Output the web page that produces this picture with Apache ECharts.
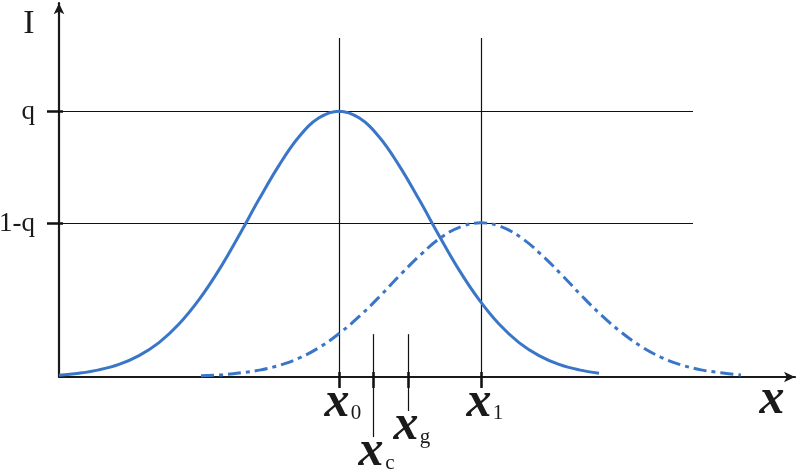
<!DOCTYPE html>
<html><head><meta charset="utf-8">
<script src="https://cdn.jsdelivr.net/npm/echarts@6/dist/echarts.min.js"></script>
<style>html,body{margin:0;padding:0;background:#fff}#c{width:796px;height:470px}</style>
</head><body><div id="c"></div>
<script>
// ---- data (x in arbitrary units, I in units where q + (1-q) = 1) ----
const xSolid = [0,2,4,6,8,10,12,14,16,18,20,22,24,26,28,30,32,34,36,38,40,42,44,46,48,50,52,54];
const ySolid = [0.004,0.009,0.017,0.030,0.051,0.082,0.126,0.184,0.255,0.337,0.423,0.504,0.572,0.617,0.633,0.617,0.572,0.504,0.423,0.337,0.255,0.184,0.126,0.082,0.051,0.030,0.017,0.009];
const xDash = [14.2,16.2,18.2,20.2,22.2,24.2,26.2,28.2,30.2,32.2,34.2,36.2,38.2,40.2,42.2,44.2,46.2,48.2,50.2,52.2,54.2,56.2,58.2,60.2,62.2,64.2,66.2,68.2];
const yDash = [0.003,0.005,0.010,0.017,0.029,0.047,0.073,0.107,0.148,0.195,0.245,0.292,0.332,0.358,0.367,0.358,0.332,0.292,0.245,0.195,0.148,0.107,0.073,0.047,0.029,0.017,0.010,0.005];
const levelValues = [0.633, 0.367];
const levelLabels = ['q', '1-q'];
const guideEnd = 63.4;
const markerX = [28, 31.4, 34.9, 42.2];
const markerSub = ['0', 'c', 'g', '1'];
const markerTop = [0.807, 0.102, 0.102, 0.807];
const markerBottom = [-0.026, -0.143, -0.081, -0.026];
const xMax = 73.6, yMax = 0.89;
const xName = 'x', yName = 'I';

const BLUE = '#3a76c8', INK = '#111';
const chart = echarts.init(document.getElementById('c'));
const axisCommon = {
  type: 'value', min: 0,
  axisLine: { show: true, symbol: ['none', 'arrow'], symbolSize: [8, 11], lineStyle: { color: '#1a1a1a', width: 2.2 } },
  axisTick: { show: false }, axisLabel: { show: false }, splitLine: { show: false }
};
const px = v => Math.round(v) + 0.5;
function renderGuides(params, api) {
  const ch = [];
  const seg = (a, b, w) => ({ type: 'line', shape: { x1: a[0], y1: a[1], x2: b[0], y2: b[1] }, style: { stroke: INK, lineWidth: w } });
  const txt = (s, x, y, font, align) => ({ type: 'text', style: { text: s, x: x, y: y, font: font, fill: '#1a1a1a', align: align || 'center', verticalAlign: 'middle' } });
  const XFONT = 'italic bold 50px "Liberation Serif"';
  levelValues.forEach((v, i) => {
    const p0 = api.coord([0, v]), p1 = api.coord([guideEnd, v]);
    const y = px(p0[1]);
    ch.push(seg([p0[0], y], [p1[0], y], 1.2));
    ch.push(seg([p0[0] - 12, y], [p0[0] + 4, y], 2.5));
    ch.push(txt(levelLabels[i], p0[0] - 24, p0[1] + 1, '27px "Liberation Serif"', 'right'));
  });
  markerX.forEach((x, i) => {
    const top = api.coord([x, markerTop[i]]), bot = api.coord([x, markerBottom[i]]);
    const xx = px(top[0]);
    ch.push(seg([xx, top[1]], [xx, bot[1]], 1.2));
    const t0 = api.coord([x, 0.012]), t1 = api.coord([x, -0.026]);
    ch.push(seg([xx, t0[1]], [xx, t1[1]], 2.5));
    const cy = bot[1] + 16;
    ch.push(txt(xName, top[0] - 2, cy - 1, XFONT));
    ch.push(txt(markerSub[i], top[0] + 17, cy + 10, '21px "Liberation Serif"'));
  });
  const o = api.coord([0, yMax]);
  ch.push(txt(yName, o[0] - 30, o[1] + 21, '34px "Liberation Serif"'));
  const e = api.coord([xMax, 0]);
  ch.push(txt(xName, e[0] - 23, e[1] + 23, XFONT));
  return { type: 'group', children: ch };
}
chart.setOption({
  animation: false,
  backgroundColor: '#fff',
  grid: { left: 59, right: 1, top: 3.2, bottom: 93, containLabel: false },
  xAxis: Object.assign({ max: xMax }, axisCommon),
  yAxis: Object.assign({ max: yMax }, axisCommon),
  series: [
    { type: 'custom', renderItem: renderGuides, data: [[0, 0]], clip: false, z: 1, silent: true },
    { type: 'line', data: xSolid.map((x, i) => [x, ySolid[i]]), smooth: 0.4, showSymbol: false, clip: false, z: 3,
      lineStyle: { color: BLUE, width: 3 } },
    { type: 'line', data: xDash.map((x, i) => [x, yDash[i]]), smooth: 0.4, showSymbol: false, clip: false, z: 3,
      lineStyle: { color: BLUE, width: 3, type: [13, 5, 4, 5] } }
  ]
});
</script>
</body></html>
